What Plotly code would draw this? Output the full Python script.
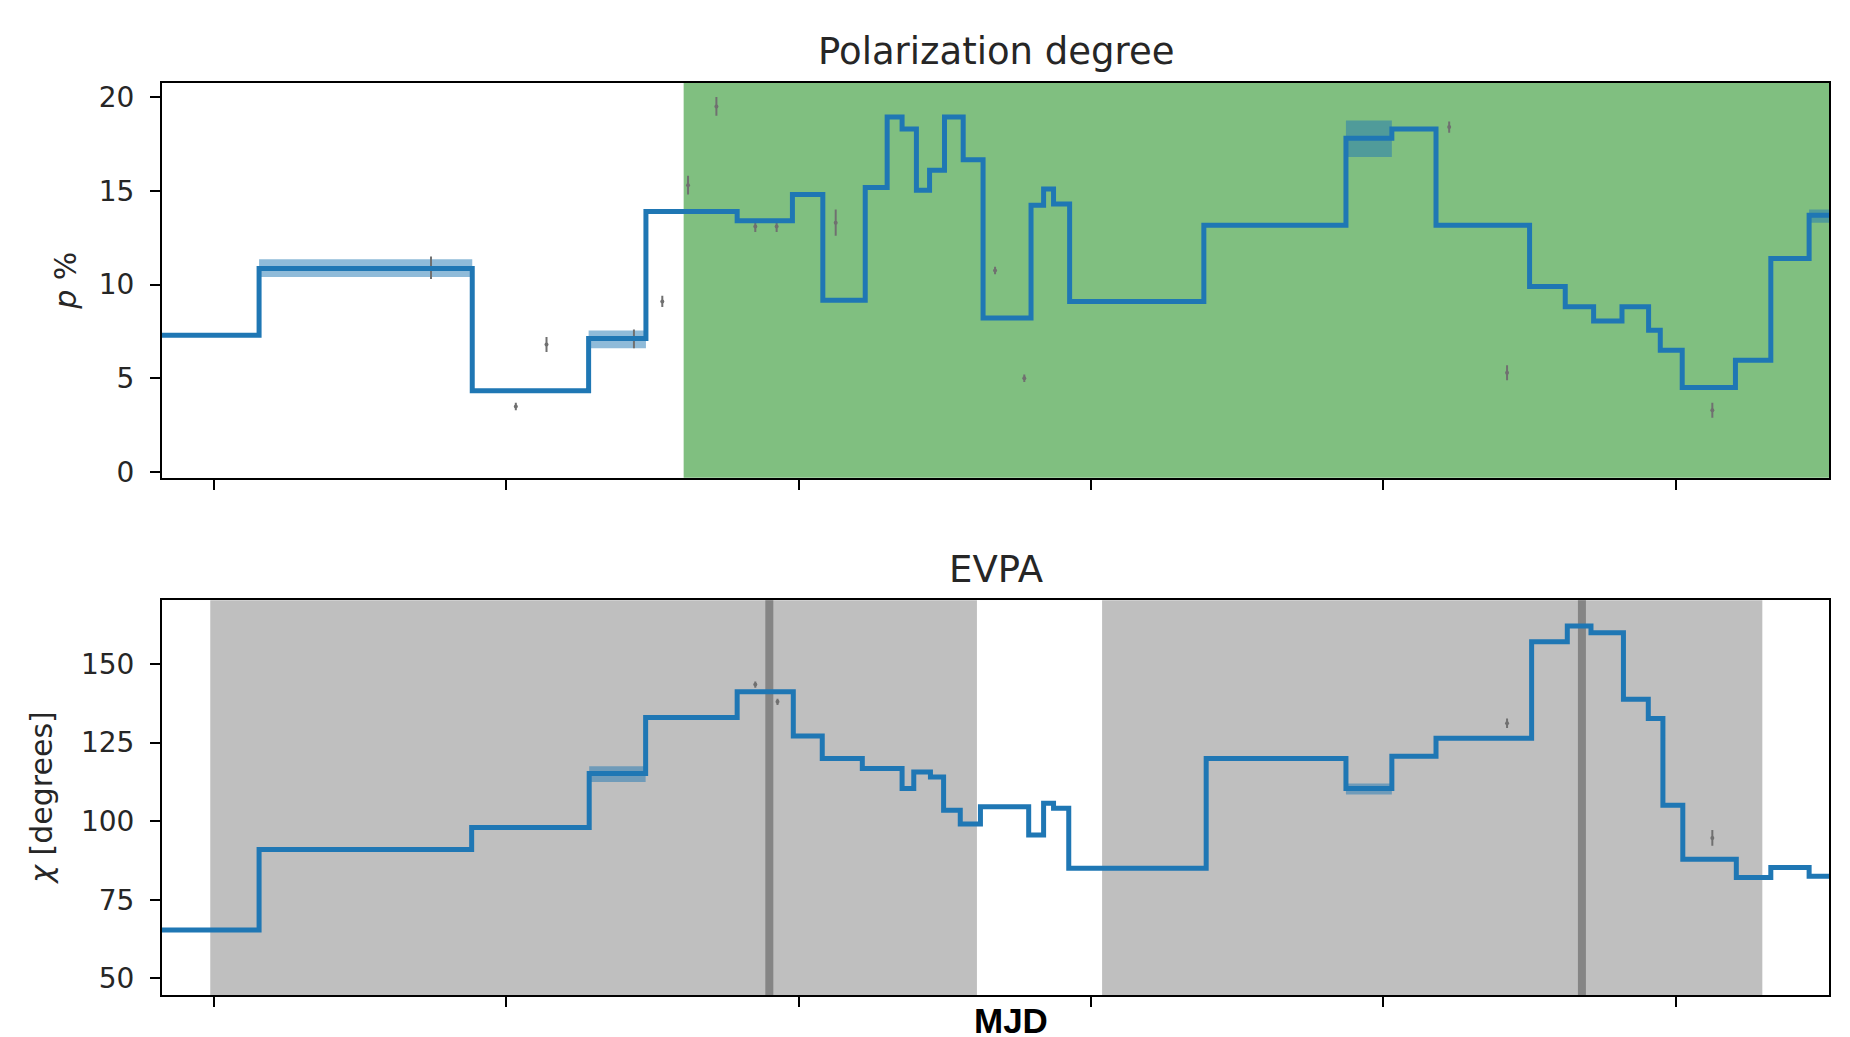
import plotly.graph_objects as go
from plotly.subplots import make_subplots

# ---------------- data ----------------
# Bayesian-block style step representation of polarization degree (p %)
p_edges = [58982.3, 59015.5, 59088.4, 59128.2, 59147.8, 59179.0, 59197.9, 59208.3,
           59222.8, 59230.3, 59235.4, 59240.3, 59244.8, 59249.9, 59256.3, 59263.1,
           59279.5, 59283.8, 59287.2, 59292.7, 59338.6, 59387.2, 59402.9, 59418.0,
           59450.0, 59462.2, 59471.9, 59481.6, 59490.7, 59494.7, 59502.2, 59520.4,
           59532.5, 59545.6, 59552.4]
p_values = [7.3, 10.85, 4.33, 7.12, 13.9, 13.4, 14.8, 9.16, 15.17, 18.93, 18.3,
            15.03, 16.1, 18.93, 16.66, 8.22, 14.23, 15.1, 14.3, 9.1, 13.16, 17.8,
            18.3, 13.16, 9.9, 8.81, 8.06, 8.81, 7.56, 6.5, 4.51, 5.96, 11.39, 13.7]

# credible-interval bands shown for some p blocks
p_band_start = [59015.5, 59128.2, 59387.2, 59545.6]
p_band_end = [59088.4, 59147.8, 59402.9, 59552.4]
p_band_lo = [10.4, 6.6, 16.8, 13.3]
p_band_hi = [11.35, 7.55, 18.75, 14.0]

# EVPA step representation
chi_edges = [58982.3, 59015.5, 59088.2, 59128.4, 59147.7, 59179.0, 59198.2, 59208.1,
             59221.8, 59235.4, 59239.4, 59245.1, 59249.6, 59255.3, 59262.2, 59278.7,
             59283.8, 59287.2, 59292.4, 59339.4, 59387.2, 59402.9, 59418.0, 59450.7,
             59462.9, 59471.0, 59482.1, 59490.6, 59495.6, 59502.4, 59520.7, 59532.5,
             59545.6, 59552.4]
chi_values = [65.4, 91.0, 98.0, 115.2, 133.0, 141.2, 127.1, 120.0, 116.8, 110.4,
              115.7, 114.1, 103.5, 99.1, 104.6, 95.6, 105.7, 104.1, 85.0, 120.0,
              110.4, 120.7, 126.4, 157.1, 162.1, 160.0, 138.8, 132.7, 105.1, 87.9,
              82.1, 85.3, 82.5]

chi_band_start = [59128.4, 59387.2]
chi_band_end = [59147.7, 59402.9]
chi_band_lo = [112.5, 108.5]
chi_band_hi = [117.5, 112.0]

# individual measurements (grey)
obs_p_mjd = [59074.3, 59103.3, 59113.8, 59143.7, 59153.4, 59162.2, 59171.9, 59185.2,
             59192.5, 59212.7, 59267.2, 59277.2, 59422.5, 59442.3, 59512.5]
obs_p = [10.9, 3.5, 6.8, 7.1, 9.1, 15.3, 19.5, 13.1, 13.1, 13.3, 10.75, 5.0, 18.4, 5.3, 3.3]
obs_p_err = [0.6, 0.2, 0.4, 0.5, 0.3, 0.5, 0.5, 0.3, 0.3, 0.7, 0.2, 0.2, 0.3, 0.4, 0.4]

obs_chi_mjd = [59185.2, 59192.8, 59442.3, 59512.5]
obs_chi = [143.5, 138.0, 131.2, 94.7]
obs_chi_err = [1.0, 1.0, 1.5, 2.5]

# shaded intervals
green_start, green_end = [59160.7], [59552.4]
grey_start = [58998.8, 59303.8]
grey_end = [59261.0, 59529.6]
dark_lines = [59190.0, 59467.9]

x_ticks = [59000, 59100, 59200, 59300, 59400, 59500]
x_range = [58982.3, 59552.4]
p_ticks = [0, 5, 10, 15, 20]
chi_ticks = [50, 75, 100, 125, 150]

# ---------------- figure ----------------
C0 = "#1f77b4"
FONT = "DejaVu Sans"

fig = make_subplots(rows=2, cols=1, vertical_spacing=0.1345)

def add_bands(starts, ends, los, his, row):
    for s, e, lo, hi in zip(starts, ends, los, his):
        fig.add_trace(go.Scatter(x=[s, e, e, s, s], y=[lo, lo, hi, hi, lo],
                                 fill="toself", fillcolor="rgba(31,119,180,0.5)",
                                 line=dict(width=0), mode="lines", hoverinfo="skip",
                                 showlegend=False), row=row, col=1)

add_bands(p_band_start, p_band_end, p_band_lo, p_band_hi, 1)
add_bands(chi_band_start, chi_band_end, chi_band_lo, chi_band_hi, 2)

fig.add_trace(go.Scatter(x=obs_p_mjd, y=obs_p, mode="markers",
                         marker=dict(color="#707070", size=4),
                         error_y=dict(type="data", array=obs_p_err, color="#707070",
                                      thickness=2, width=0),
                         showlegend=False), row=1, col=1)
fig.add_trace(go.Scatter(x=obs_chi_mjd, y=obs_chi, mode="markers",
                         marker=dict(color="#707070", size=4),
                         error_y=dict(type="data", array=obs_chi_err, color="#707070",
                                      thickness=2, width=0),
                         showlegend=False), row=2, col=1)

fig.add_trace(go.Scatter(x=p_edges, y=p_values + [p_values[-1]], mode="lines",
                         line=dict(color=C0, width=5, shape="hv"), showlegend=False),
              row=1, col=1)
fig.add_trace(go.Scatter(x=chi_edges, y=chi_values + [chi_values[-1]], mode="lines",
                         line=dict(color=C0, width=5, shape="hv"), showlegend=False),
              row=2, col=1)

shapes = []
for s, e in zip(green_start, green_end):
    shapes.append(dict(type="rect", xref="x", yref="y domain", x0=s, x1=e, y0=0, y1=1,
                       fillcolor="#80bf80", line=dict(width=0), layer="below"))
for s, e in zip(grey_start, grey_end):
    shapes.append(dict(type="rect", xref="x2", yref="y2 domain", x0=s, x1=e, y0=0, y1=1,
                       fillcolor="#bfbfbf", line=dict(width=0), layer="below"))
for d in dark_lines:
    shapes.append(dict(type="line", xref="x2", yref="y2 domain", x0=d, x1=d, y0=0, y1=1,
                       line=dict(color="#858585", width=8), layer="below"))

axis_common = dict(showline=True, mirror=True, linecolor="black", linewidth=2,
                   ticks="outside", ticklen=10, tickwidth=2, tickcolor="black",
                   showgrid=False, zeroline=False, automargin=False,
                   tickfont=dict(family=FONT, size=28, color="#262626"))

fig.update_xaxes(**axis_common, range=x_range, tickvals=x_ticks, showticklabels=False)
fig.update_yaxes(**axis_common, ticklabelstandoff=10)
fig.update_yaxes(range=[-0.3, 20.75], tickvals=p_ticks, row=1, col=1)
fig.update_yaxes(range=[44.7, 170.3], tickvals=chi_ticks, row=2, col=1)

annotations = [
    dict(text="Polarization degree", xref="paper", yref="paper", x=0.5, y=1,
         yshift=32, xanchor="center", yanchor="middle", showarrow=False,
         font=dict(family=FONT, size=37, color="#262626")),
    dict(text="EVPA", xref="paper", yref="paper", x=0.5, y=0.4326,
         yshift=31, xanchor="center", yanchor="middle", showarrow=False,
         font=dict(family=FONT, size=37, color="#262626")),
    dict(text="<i>p</i> %", xref="paper", yref="paper", x=-0.058, y=0.7835,
         xanchor="center", yanchor="middle", textangle=-90, showarrow=False,
         font=dict(family=FONT, size=30, color="#262626")),
    dict(text="<i>χ</i> [degrees]", xref="paper", yref="paper", x=-0.072, y=0.2163,
         xanchor="center", yanchor="middle", textangle=-90, showarrow=False,
         font=dict(family=FONT, size=30, color="#262626")),
    dict(text="<b>MJD</b>", xref="paper", yref="paper", x=0.5095, y=0,
         yshift=-25, xanchor="center", yanchor="middle", showarrow=False,
         font=dict(family="Liberation Sans", size=35, color="black")),
]

# the page body adds an 8 px offset; margins compensate so the plot areas land in place
fig.update_layout(width=1850, height=1037, plot_bgcolor="white", paper_bgcolor="white",
                  margin=dict(l=154, r=29, t=75, b=50), shapes=shapes,
                  annotations=annotations, showlegend=False)

fig.write_html("out.html")
